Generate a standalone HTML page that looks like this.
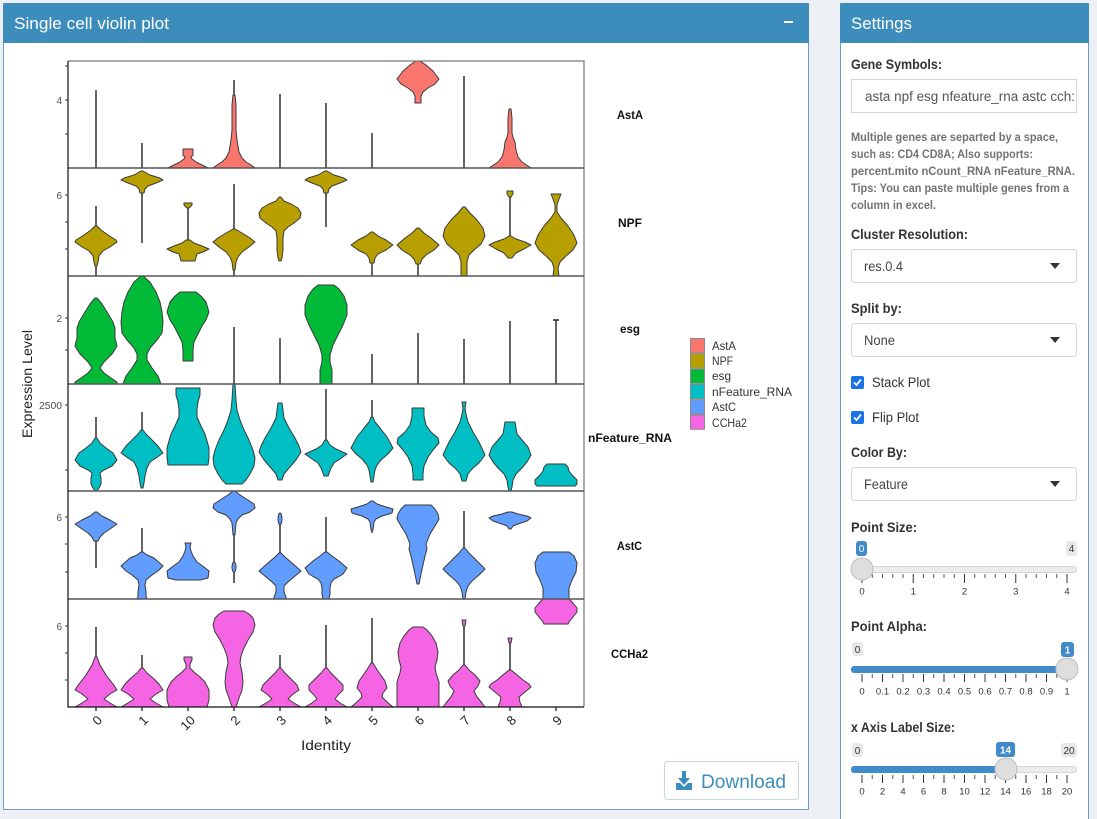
<!DOCTYPE html>
<html><head><meta charset="utf-8"><style>
html,body{margin:0;padding:0;background:#ecf0f5;overflow:hidden;width:1097px;height:819px}
svg{display:block}
text{font-family:"Liberation Sans",Arial,sans-serif}
</style></head><body>
<svg width="1097" height="819" viewBox="0 0 1097 819" xmlns="http://www.w3.org/2000/svg">
<rect x="0" y="0" width="1097" height="819" fill="#ecf0f5"/>
<!-- Left box -->
<rect x="3.5" y="3.5" width="805" height="806" fill="#fff" stroke="#6f9cc4" stroke-width="1"/>
<path d="M3,43 V6 Q3,3 6,3 H806 Q809,3 809,6 V43 Z" fill="#3c8dbc"/>
<text x="14" y="29" font-size="17" fill="#fff" textLength="155" lengthAdjust="spacingAndGlyphs">Single cell violin plot</text>
<rect x="784" y="21" width="9" height="2" fill="#fff"/>
<!-- Right box -->
<rect x="840.5" y="3.5" width="248" height="830" fill="#fff" stroke="#6f9cc4" stroke-width="1"/>
<path d="M840,43 V6 Q840,3 843,3 H1086 Q1089,3 1089,6 V43 Z" fill="#3c8dbc"/>
<text x="851" y="29" font-size="17" fill="#fff" textLength="61" lengthAdjust="spacingAndGlyphs">Settings</text>

<!-- ===== PLOT ===== -->
<g stroke="#222" stroke-width="1.4" fill="none">
<!-- P1 lines -->
<path d="M96 90V168M142 143V168M234 80V168M280 94V168M326 103V168M372 133V168M464 76V168M510 109V168"/>
<!-- P2 lines -->
<path d="M96 206V276M142 171V243M188 207V240M234 184V276M326 188V227M372 258V276M418 260V276M510 196V236"/>
<!-- P3 lines -->
<path d="M234 327V384M280 338V384M372 354V384M418 333V384M464 339V384M510 321V384M556 320V384M553 320H559"/>
<!-- P4 lines -->
<path d="M96 417V440M142 412V430M326 389V442M372 400V417"/>
<!-- P5 lines -->
<path d="M96 537V568M142 528V552M234 491V583M280 513V553M326 517V552M372 501V533M464 511V548"/>
<!-- P6 lines -->
<path d="M96 627V657M142 655V670M280 655V668M326 625V668M372 618V663M464 626V665M510 643V670"/>
</g>

<g stroke="#3a3a3a" stroke-width="1" stroke-linejoin="round">
<!-- P1 AstA -->
<g fill="#F8766D">
<polygon transform="translate(188,0)" points="5,149 5,155 3,157 4,159 8,162 14,165 20,168 -20,168 -14,165 -8,162 -4,159 -3,157 -5,155 -5,149"/>
<polygon transform="translate(234,0)" points="1,95 2,105 2,130 3,140 5,152 8,158 12,162 17,165 21,168 -21,168 -17,165 -12,162 -8,158 -5,152 -3,140 -2,130 -2,105 -1,95"/>
<polygon transform="translate(418,0)" points="2,61 8,65 15,71 21,79 17,84 10,88 5,92 3,96 3,103 -3,103 -3,96 -5,92 -10,88 -17,84 -21,79 -15,71 -8,65 -2,61"/>
<polygon transform="translate(510,0)" points="1,109 2,118 2,133 3,137 5,142 6,150 8,157 12,162 18,166 21,168 -21,168 -18,166 -12,162 -8,157 -6,150 -5,142 -3,137 -2,133 -2,118 -1,109"/>
</g>
<!-- P2 NPF -->
<g fill="#B79F00">
<polygon transform="translate(96,0)" points="1,226 5,230 12,235 20,240 21,242 14,247 7,251 3,256 2,262 1,266 -1,266 -2,262 -3,256 -7,251 -14,247 -21,242 -20,240 -12,235 -5,230 -1,226"/>
<polygon transform="translate(142,0)" points="1,171 8,175 18,178 21,180 14,183 6,186 3,189 2,193 -2,193 -3,189 -6,186 -14,183 -21,180 -18,178 -8,175 -1,171"/>
<polygon transform="translate(188,0)" points="4,203 4,205 1,208 -1,208 -4,205 -4,203"/>
<polygon transform="translate(188,0)" points="2,240 6,243 14,246 21,249 15,252 9,254 8,257 7,261 -7,261 -8,257 -9,254 -15,252 -21,249 -14,246 -6,243 -2,240"/>
<polygon transform="translate(234,0)" points="1,229 8,233 16,238 21,242 15,247 8,252 4,257 2,262 1,270 -1,270 -2,262 -4,257 -8,252 -15,247 -21,242 -16,238 -8,233 -1,229"/>
<polygon transform="translate(280,0)" points="1,197 4,201 11,204 18,208 21,213 20,218 14,223 8,227 4,231 3,238 3,250 2,258 1,261 -1,261 -2,258 -3,250 -3,238 -4,231 -8,227 -14,223 -20,218 -21,213 -18,208 -11,204 -4,201 -1,197"/>
<polygon transform="translate(326,0)" points="1,171 8,175 18,178 21,180 14,183 6,186 3,189 2,193 -2,193 -3,189 -6,186 -14,183 -21,180 -18,178 -8,175 -1,171"/>
<polygon transform="translate(372,0)" points="1,232 6,236 14,240 21,245 14,250 6,254 3,258 2,263 -2,263 -3,258 -6,254 -14,250 -21,245 -14,240 -6,236 -1,232"/>
<polygon transform="translate(418,0)" points="1,228 6,233 13,238 21,245 16,250 8,255 4,259 2,264 -2,264 -4,259 -8,255 -16,250 -21,245 -13,238 -6,233 -1,228"/>
<polygon transform="translate(464,0)" points="1,207 6,213 13,220 19,228 21,236 17,244 10,250 5,255 3,262 3,276 -3,276 -3,262 -5,255 -10,250 -17,244 -21,236 -19,228 -13,220 -6,213 -1,207"/>
<polygon transform="translate(510,0)" points="3,191 3,194 1,197 -1,197 -3,194 -3,191"/>
<polygon transform="translate(510,0)" points="1,236 6,239 15,242 21,245 14,249 6,253 2,258 -2,258 -6,253 -14,249 -21,245 -15,242 -6,239 -1,236"/>
<polygon transform="translate(556,0)" points="5,194 3,199 1,205 1,212 5,218 12,226 18,235 21,243 17,250 10,256 4,262 2,268 3,276 -3,276 -2,268 -4,262 -10,256 -17,250 -21,243 -18,235 -12,226 -5,218 -1,212 -1,205 -3,199 -5,194"/>
</g>
<!-- P3 esg -->
<g fill="#00BA38">
<polygon transform="translate(96,0)" points="1,298 6,304 11,312 17,322 19,328 19,338 21,346 16,354 8,362 4,368 8,373 15,378 21,382 21,384 -21,384 -21,382 -15,378 -8,373 -4,368 -8,362 -16,354 -21,346 -19,338 -19,328 -17,322 -11,312 -6,304 -1,298"/>
<polygon transform="translate(142,0)" points="1,276 8,282 14,292 18,302 20,312 21,322 20,333 15,340 8,348 5,354 5,360 10,368 16,376 19,384 -19,384 -16,376 -10,368 -5,360 -5,354 -8,348 -15,340 -20,333 -21,322 -20,312 -18,302 -14,292 -8,282 -1,276"/>
<polygon transform="translate(188,0)" points="8,292 13,296 18,302 21,312 18,320 14,326 10,334 6,342 5,350 5,361 -5,361 -5,350 -6,342 -10,334 -14,326 -18,320 -21,312 -18,302 -13,296 -8,292"/>
<polygon transform="translate(326,0)" points="8,285 13,289 18,296 21,305 21,315 17,325 12,335 7,345 4,355 4,362 6,370 6,384 -6,384 -6,370 -4,362 -4,355 -7,345 -12,335 -17,325 -21,315 -21,305 -18,296 -13,289 -8,285"/>
</g>
<!-- P4 nFeature_RNA -->
<g fill="#00BFC4">
<polygon transform="translate(96,0)" points="1,438 4,443 10,448 17,453 21,460 16,466 8,470 4,473 5,478 5,484 3,488 1,491 -1,491 -3,488 -5,484 -5,478 -4,473 -8,470 -16,466 -21,460 -17,453 -10,448 -4,443 -1,438"/>
<polygon transform="translate(142,0)" points="1,430 4,434 10,440 16,446 21,453 14,458 8,462 5,468 3,476 2,483 1,488 -1,488 -2,483 -3,476 -5,468 -8,462 -14,458 -21,453 -16,446 -10,440 -4,434 -1,430"/>
<polygon transform="translate(188,0)" points="12,388 12,395 10,402 9,410 9,417 13,426 17,434 21,448 21,458 20,465 -20,465 -21,458 -21,448 -17,434 -13,426 -9,417 -9,410 -10,402 -12,395 -12,388"/>
<polygon transform="translate(234,0)" points="1,384 2,400 3,410 6,420 10,430 15,440 19,450 21,458 20,466 16,474 12,480 8,484 -8,484 -12,480 -16,474 -20,466 -21,458 -19,450 -15,440 -10,430 -6,420 -3,410 -2,400 -1,384"/>
<polygon transform="translate(280,0)" points="2,403 3,410 4,418 9,428 15,438 19,446 21,452 16,460 9,468 4,474 2,480 -2,480 -4,474 -9,468 -16,460 -21,452 -19,446 -15,438 -9,428 -4,418 -3,410 -2,403"/>
<polygon transform="translate(326,0)" points="1,440 4,445 10,449 21,454 14,459 8,463 5,468 2,476 -2,476 -5,468 -8,463 -14,459 -21,454 -10,449 -4,445 -1,440"/>
<polygon transform="translate(372,0)" points="1,417 3,422 8,428 15,437 21,448 16,454 10,459 5,465 3,470 2,476 1,482 -1,482 -2,476 -3,470 -5,465 -10,459 -16,454 -21,448 -15,437 -8,428 -3,422 -1,417"/>
<polygon transform="translate(418,0)" points="6,408 6,416 8,425 13,432 20,438 21,443 15,450 10,457 6,466 5,474 5,480 -5,480 -5,474 -6,466 -10,457 -15,450 -21,443 -20,438 -13,432 -8,425 -6,416 -6,408"/>
<polygon transform="translate(464,0)" points="2,402 1,408 2,414 4,422 9,432 15,442 21,455 15,463 8,469 4,474 2,481 -2,481 -4,474 -8,469 -15,463 -21,455 -15,442 -9,432 -4,422 -2,414 -1,408 -2,402"/>
<polygon transform="translate(510,0)" points="5,422 6,428 7,434 12,440 18,447 21,455 17,462 12,468 6,474 3,480 2,487 1,491 -1,491 -2,487 -3,480 -6,474 -12,468 -17,462 -21,455 -18,447 -12,440 -7,434 -6,428 -5,422"/>
<polygon transform="translate(556,0)" points="9,464 12,467 13,471 17,476 21,480 21,484 19,486 -19,486 -21,484 -21,480 -17,476 -13,471 -12,467 -9,464"/>
</g>
<!-- P5 AstC -->
<g fill="#619CFF">
<polygon transform="translate(96,0)" points="1,512 6,516 14,520 21,524 14,529 8,533 4,537 2,541 -2,541 -4,537 -8,533 -14,529 -21,524 -14,520 -6,516 -1,512"/>
<polygon transform="translate(142,0)" points="1,552 5,555 12,558 21,566 16,571 10,575 4,580 3,585 4,592 4,596 5,599 -5,599 -4,596 -4,592 -3,585 -4,580 -10,575 -16,571 -21,566 -12,558 -5,555 -1,552"/>
<polygon transform="translate(188,0)" points="3,543 2,547 3,551 5,556 9,562 16,567 21,571 20,578 12,580 -12,580 -20,578 -21,571 -16,567 -9,562 -5,556 -3,551 -2,547 -3,543"/>
<polygon transform="translate(234,0)" points="1,491 6,495 14,500 20,504 21,508 16,512 8,515 4,519 2,523 1,535 -1,535 -2,523 -4,519 -8,515 -16,512 -21,508 -20,504 -14,500 -6,495 -1,491"/>
<ellipse cx="234" cy="567" rx="2" ry="5"/>
<ellipse cx="280" cy="519" rx="2" ry="6"/>
<polygon transform="translate(280,0)" points="1,553 5,557 12,563 21,571 14,577 8,582 4,586 4,592 6,597 6,599 -6,599 -6,597 -4,592 -4,586 -8,582 -14,577 -21,571 -12,563 -5,557 -1,553"/>
<polygon transform="translate(326,0)" points="1,552 6,556 13,561 21,568 17,574 12,577 8,579 5,583 4,588 4,594 3,599 -3,599 -4,594 -4,588 -5,583 -8,579 -12,577 -17,574 -21,568 -13,561 -6,556 -1,552"/>
<polygon transform="translate(372,0)" points="1,501 5,504 14,507 21,509 20,513 10,516 4,519 2,522 1,530 -1,530 -2,522 -4,519 -10,516 -20,513 -21,509 -14,507 -5,504 -1,501"/>
<polygon transform="translate(418,0)" points="13,505 17,509 20,514 21,519 17,526 12,534 8,544 9,549 7,556 5,565 3,574 1,584 -1,584 -3,574 -5,565 -7,556 -9,549 -8,544 -12,534 -17,526 -21,519 -20,514 -17,509 -13,505"/>
<polygon transform="translate(464,0)" points="1,548 5,553 12,560 21,569 15,575 8,581 4,586 2,592 1,599 -1,599 -2,592 -4,586 -8,581 -15,575 -21,569 -12,560 -5,553 -1,548"/>
<polygon transform="translate(510,0)" points="2,512 8,514 17,516 21,518 17,521 8,524 3,526 1,529 -1,529 -3,526 -8,524 -17,521 -21,518 -17,516 -8,514 -2,512"/>
<polygon transform="translate(556,0)" points="13,552 18,556 21,563 20,572 16,580 13,588 13,599 -13,599 -13,588 -16,580 -20,572 -21,563 -18,556 -13,552"/>
</g>
<!-- P6 CCHa2 -->
<g fill="#F564E3">
<polygon transform="translate(96,0)" points="1,657 4,665 10,675 17,684 21,690 14,694 8,699 14,703 21,707 -21,707 -14,703 -8,699 -14,694 -21,690 -17,684 -10,675 -4,665 -1,657"/>
<polygon transform="translate(142,0)" points="1,668 5,673 11,678 17,684 21,690 14,694 8,699 14,703 21,707 -21,707 -14,703 -8,699 -14,694 -21,690 -17,684 -11,678 -5,673 -1,668"/>
<polygon transform="translate(188,0)" points="4,657 4,660 2,664 2,668 6,672 12,677 17,682 21,690 21,700 19,707 -19,707 -21,700 -21,690 -17,682 -12,677 -6,672 -2,668 -2,664 -4,660 -4,657"/>
<polygon transform="translate(234,0)" points="10,611 15,614 19,618 21,625 19,632 14,640 10,648 7,656 6,663 8,672 9,682 8,690 5,698 2,707 -2,707 -5,698 -8,690 -9,682 -8,672 -6,663 -7,656 -10,648 -14,640 -19,632 -21,625 -19,618 -15,614 -10,611"/>
<polygon transform="translate(280,0)" points="1,668 5,673 11,679 17,685 19,690 12,695 8,699 14,703 21,707 -21,707 -14,703 -8,699 -12,695 -19,690 -17,685 -11,679 -5,673 -1,668"/>
<polygon transform="translate(326,0)" points="1,668 5,673 11,679 17,685 17,690 12,695 9,699 14,703 21,707 -21,707 -14,703 -9,699 -12,695 -17,690 -17,685 -11,679 -5,673 -1,668"/>
<polygon transform="translate(372,0)" points="1,663 4,668 8,674 13,681 15,688 11,693 10,697 15,702 21,707 -21,707 -15,702 -10,697 -11,693 -15,688 -13,681 -8,674 -4,668 -1,663"/>
<polygon transform="translate(418,0)" points="5,627 9,630 14,636 18,643 20,652 19,660 17,667 18,673 21,682 21,695 21,707 -21,707 -21,695 -21,682 -18,673 -17,667 -19,660 -20,652 -18,643 -14,636 -9,630 -5,627"/>
<polygon transform="translate(464,0)" points="2,620 1,626 -1,626 -2,620"/>
<polygon transform="translate(464,0)" points="1,665 5,670 11,675 16,681 14,686 10,691 13,697 18,703 21,707 -21,707 -18,703 -13,697 -10,691 -14,686 -16,681 -11,675 -5,670 -1,665"/>
<polygon transform="translate(510,0)" points="2,638 1,643 -1,643 -2,638"/>
<polygon transform="translate(510,0)" points="1,670 6,674 13,680 19,684 21,687 15,692 9,697 10,702 12,707 -12,707 -10,702 -9,697 -15,692 -21,687 -19,684 -13,680 -6,674 -1,670"/>
<polygon transform="translate(556,0)" points="13,599 17,603 21,608 21,612 17,617 13,622 12,624 -12,624 -13,622 -17,617 -21,612 -21,608 -17,603 -13,599"/>
</g>
</g>

<!-- frame -->
<g fill="none">
<path d="M68 61H584V707" stroke="#777" stroke-width="1.2"/>
<path d="M68 168H584M68 276H584M68 384H584M68 491H584M68 599H584" stroke="#555" stroke-width="1.5"/>
<path d="M68 61V707H584" stroke="#111" stroke-width="1.2"/>
<path d="M65 66H68M65 100H68M65 134H68M65 195H68M65 222H68M65 249H68M65 318H68M65 350H68M65 405H68M65 470H68M65 517H68M65 544H68M65 572H68M65 626H68M65 653H68M65 680H68" stroke="#333" stroke-width="1"/>
<path d="M96 707V711M142 707V711M188 707V711M234 707V711M280 707V711M326 707V711M372 707V711M418 707V711M464 707V711M510 707V711M556 707V711" stroke="#111" stroke-width="1.2"/>
</g>
<!-- y tick labels -->
<g font-size="10" fill="#4d4d4d" text-anchor="end">
<text x="62" y="104">4</text>
<text x="62" y="199">6</text>
<text x="62" y="322">2</text>
<text x="62" y="409" textLength="23" lengthAdjust="spacingAndGlyphs">2500</text>
<text x="62" y="521">6</text>
<text x="62" y="630">6</text>
</g>
<text transform="translate(32,384) rotate(-90)" text-anchor="middle" font-size="14" fill="#222" textLength="108" lengthAdjust="spacingAndGlyphs">Expression Level</text>
<!-- x labels -->
<g font-size="13" fill="#222" text-anchor="end">
<text transform="translate(103,721) rotate(-45)">0</text>
<text transform="translate(149,721) rotate(-45)">1</text>
<text transform="translate(196,721) rotate(-45)">10</text>
<text transform="translate(241,721) rotate(-45)">2</text>
<text transform="translate(287,721) rotate(-45)">3</text>
<text transform="translate(333,721) rotate(-45)">4</text>
<text transform="translate(379,721) rotate(-45)">5</text>
<text transform="translate(425,721) rotate(-45)">6</text>
<text transform="translate(471,721) rotate(-45)">7</text>
<text transform="translate(517,721) rotate(-45)">8</text>
<text transform="translate(563,721) rotate(-45)">9</text>
</g>
<text x="301" y="750" font-size="14" fill="#222" textLength="50" lengthAdjust="spacingAndGlyphs">Identity</text>
<!-- facet labels -->
<g font-size="12" font-weight="bold" fill="#111">
<text x="617" y="119" textLength="26" lengthAdjust="spacingAndGlyphs">AstA</text>
<text x="618" y="227" textLength="24" lengthAdjust="spacingAndGlyphs">NPF</text>
<text x="620" y="333" textLength="20" lengthAdjust="spacingAndGlyphs">esg</text>
<text x="588" y="442" textLength="84" lengthAdjust="spacingAndGlyphs">nFeature_RNA</text>
<text x="617" y="550" textLength="25" lengthAdjust="spacingAndGlyphs">AstC</text>
<text x="611" y="658" textLength="37" lengthAdjust="spacingAndGlyphs">CCHa2</text>
</g>
<!-- legend -->
<g stroke="#8a8a8a" stroke-width="1">
<rect x="690.5" y="338.5" width="14" height="14.3" fill="#F8766D"/>
<rect x="690.5" y="353.8" width="14" height="14.3" fill="#B79F00"/>
<rect x="690.5" y="369.1" width="14" height="14.3" fill="#00BA38"/>
<rect x="690.5" y="384.4" width="14" height="14.3" fill="#00BFC4"/>
<rect x="690.5" y="399.7" width="14" height="14.3" fill="#619CFF"/>
<rect x="690.5" y="415" width="14" height="14.3" fill="#F564E3"/>
</g>
<g font-size="12" fill="#333">
<text x="712" y="350" textLength="24" lengthAdjust="spacingAndGlyphs">AstA</text>
<text x="712" y="365" textLength="21" lengthAdjust="spacingAndGlyphs">NPF</text>
<text x="712" y="380" textLength="19" lengthAdjust="spacingAndGlyphs">esg</text>
<text x="712" y="396" textLength="80" lengthAdjust="spacingAndGlyphs">nFeature_RNA</text>
<text x="712" y="411" textLength="24" lengthAdjust="spacingAndGlyphs">AstC</text>
<text x="712" y="427" textLength="35" lengthAdjust="spacingAndGlyphs">CCHa2</text>
</g>

<!-- Download button -->
<rect x="664.5" y="761.5" width="134" height="38" rx="3" fill="#fff" stroke="#c4d6e8"/>
<g fill="#3c8dbc">
<rect x="682" y="771" width="4" height="9"/>
<path d="M678 778 H690 L684 785 Z"/>
<path d="M676 783 H680 L684 787 L688 783 H692 V790 H676 Z"/>
</g>
<text x="701" y="788" font-size="19" fill="#3c8dbc" textLength="85" lengthAdjust="spacingAndGlyphs">Download</text>

<!-- ===== SETTINGS ===== -->
<g font-size="14" font-weight="bold" fill="#333">
<text x="851" y="69" textLength="91" lengthAdjust="spacingAndGlyphs">Gene Symbols:</text>
<text x="851" y="239" textLength="117" lengthAdjust="spacingAndGlyphs">Cluster Resolution:</text>
<text x="851" y="313" textLength="51" lengthAdjust="spacingAndGlyphs">Split by:</text>
<text x="851" y="457" textLength="56" lengthAdjust="spacingAndGlyphs">Color By:</text>
<text x="851" y="532" textLength="66" lengthAdjust="spacingAndGlyphs">Point Size:</text>
<text x="851" y="631" textLength="76" lengthAdjust="spacingAndGlyphs">Point Alpha:</text>
<text x="851" y="732" textLength="104" lengthAdjust="spacingAndGlyphs">x Axis Label Size:</text>
</g>
<rect x="851.5" y="79.5" width="225" height="33" fill="#fff" stroke="#d2d6de"/>
<text x="865" y="101" font-size="13.5" fill="#555" textLength="210" lengthAdjust="spacingAndGlyphs">asta npf esg nfeature_rna astc cch:</text>
<g font-size="11.5" font-weight="bold" fill="#737373">
<text x="851" y="141" textLength="207" lengthAdjust="spacingAndGlyphs">Multiple genes are separted by a space,</text>
<text x="851" y="158" textLength="182" lengthAdjust="spacingAndGlyphs">such as: CD4 CD8A; Also supports:</text>
<text x="851" y="175" textLength="224" lengthAdjust="spacingAndGlyphs">percent.mito nCount_RNA nFeature_RNA.</text>
<text x="851" y="192" textLength="218" lengthAdjust="spacingAndGlyphs">Tips: You can paste multiple genes from a</text>
<text x="851" y="209" textLength="85" lengthAdjust="spacingAndGlyphs">column in excel.</text>
</g>
<!-- selects -->
<g fill="#fff" stroke="#d2d6de">
<rect x="851.5" y="249.5" width="225" height="33" rx="3"/>
<rect x="851.5" y="323.5" width="225" height="33" rx="3"/>
<rect x="851.5" y="467.5" width="225" height="33" rx="3"/>
</g>
<g fill="#333">
<path d="M1050 263H1060L1055 269Z"/>
<path d="M1050 337H1060L1055 343Z"/>
<path d="M1050 481H1060L1055 487Z"/>
</g>
<g font-size="13.5" fill="#444">
<text x="864" y="271" textLength="39" lengthAdjust="spacingAndGlyphs">res.0.4</text>
<text x="864" y="345" textLength="31" lengthAdjust="spacingAndGlyphs">None</text>
<text x="864" y="489" textLength="44" lengthAdjust="spacingAndGlyphs">Feature</text>
</g>
<!-- checkboxes -->
<rect x="851" y="376" width="13" height="13" rx="2" fill="#1a73e8"/>
<path d="M854 382.5L856.5 385L861 379.5" stroke="#fff" stroke-width="1.8" fill="none"/>
<rect x="851" y="411" width="13" height="13" rx="2" fill="#1a73e8"/>
<path d="M854 417.5L856.5 420L861 414.5" stroke="#fff" stroke-width="1.8" fill="none"/>
<g font-size="13.5" fill="#333">
<text x="872" y="387" textLength="58" lengthAdjust="spacingAndGlyphs">Stack Plot</text>
<text x="872" y="422" textLength="47" lengthAdjust="spacingAndGlyphs">Flip Plot</text>
</g>

<!-- Slider 1: Point Size -->
<rect x="851.5" y="566.5" width="225" height="6" rx="3" fill="#ececec" stroke="#d6d6d6"/>
<rect x="856" y="541" width="11" height="15" rx="3" fill="#428bca"/>
<text x="861.5" y="552" font-size="10" fill="#fff" text-anchor="middle">0</text>
<rect x="1066" y="541" width="11" height="15" rx="3" fill="#e8e8e8"/>
<text x="1071.5" y="552" font-size="10" fill="#333" text-anchor="middle">4</text>
<path d="M862 574v9M913.25 574v9M964.5 574v9M1015.75 574v9M1067 574v9" stroke="#333" stroke-width="1"/>
<path d="M872.25 574v4M882.5 574v4M892.75 574v4M903 574v4M923.5 574v4M933.75 574v4M944 574v4M954.25 574v4M974.75 574v4M985 574v4M995.25 574v4M1005.5 574v4M1026 574v4M1036.25 574v4M1046.5 574v4M1056.75 574v4" stroke="#555" stroke-width="1"/>
<g font-size="9.5" fill="#333" text-anchor="middle">
<text x="862" y="594.5">0</text><text x="913.25" y="594.5">1</text><text x="964.5" y="594.5">2</text><text x="1015.75" y="594.5">3</text><text x="1067" y="594.5">4</text>
</g>
<circle cx="862" cy="569" r="11" fill="#dedede" stroke="#bdbdbd"/>

<!-- Slider 2: Point Alpha -->
<rect x="851.5" y="666.5" width="225" height="6" rx="3" fill="#ececec" stroke="#d6d6d6"/>
<rect x="851" y="666" width="216" height="7" rx="3" fill="#428bca"/>
<rect x="852" y="642" width="11" height="14" rx="3" fill="#e8e8e8"/>
<text x="857.5" y="653" font-size="10" fill="#333" text-anchor="middle">0</text>
<rect x="1061" y="642" width="13" height="15" rx="3" fill="#428bca"/>
<text x="1067.5" y="653.5" font-size="10" fill="#fff" text-anchor="middle" font-weight="bold">1</text>
<path d="M862 674v8M882.5 674v8M903 674v8M923.5 674v8M944 674v8M964.5 674v8M985 674v8M1005.5 674v8M1026 674v8M1046.5 674v8M1067 674v8" stroke="#333" stroke-width="1"/>
<path d="M872.25 674v4M892.75 674v4M913.25 674v4M933.75 674v4M954.25 674v4M974.75 674v4M995.25 674v4M1015.75 674v4M1036.25 674v4M1056.75 674v4" stroke="#555" stroke-width="1"/>
<g font-size="9.5" fill="#333" text-anchor="middle">
<text x="862" y="694.5">0</text><text x="882.5" y="694.5">0.1</text><text x="903" y="694.5">0.2</text><text x="923.5" y="694.5">0.3</text><text x="944" y="694.5">0.4</text><text x="964.5" y="694.5">0.5</text><text x="985" y="694.5">0.6</text><text x="1005.5" y="694.5">0.7</text><text x="1026" y="694.5">0.8</text><text x="1046.5" y="694.5">0.9</text><text x="1067" y="694.5">1</text>
</g>
<circle cx="1067" cy="669" r="11" fill="#dedede" stroke="#bdbdbd"/>

<!-- Slider 3: x Axis Label Size -->
<rect x="851.5" y="766.5" width="225" height="6" rx="3" fill="#ececec" stroke="#d6d6d6"/>
<rect x="851" y="766" width="155" height="7" rx="3" fill="#428bca"/>
<rect x="852" y="743" width="11" height="14" rx="3" fill="#e8e8e8"/>
<text x="857.5" y="754" font-size="10" fill="#333" text-anchor="middle">0</text>
<rect x="996" y="742" width="19" height="15" rx="3" fill="#428bca"/>
<text x="1005.5" y="753.5" font-size="10" fill="#fff" text-anchor="middle" font-weight="bold">14</text>
<rect x="1061" y="743" width="16" height="14" rx="3" fill="#e8e8e8"/>
<text x="1069" y="754" font-size="10" fill="#333" text-anchor="middle">20</text>
<path d="M862 775v8M882.5 775v8M903 775v8M923.5 775v8M944 775v8M964.5 775v8M985 775v8M1005.5 775v8M1026 775v8M1046.5 775v8M1067 775v8" stroke="#333" stroke-width="1"/>
<path d="M872.25 775v4M892.75 775v4M913.25 775v4M933.75 775v4M954.25 775v4M974.75 775v4M995.25 775v4M1015.75 775v4M1036.25 775v4M1056.75 775v4" stroke="#555" stroke-width="1"/>
<g font-size="9.5" fill="#333" text-anchor="middle">
<text x="862" y="794.5">0</text><text x="882.5" y="794.5">2</text><text x="903" y="794.5">4</text><text x="923.5" y="794.5">6</text><text x="944" y="794.5">8</text><text x="964.5" y="794.5">10</text><text x="985" y="794.5">12</text><text x="1005.5" y="794.5">14</text><text x="1026" y="794.5">16</text><text x="1046.5" y="794.5">18</text><text x="1067" y="794.5">20</text>
</g>
<circle cx="1006" cy="769" r="11" fill="#dedede" stroke="#bdbdbd"/>
</svg>
</body></html>
